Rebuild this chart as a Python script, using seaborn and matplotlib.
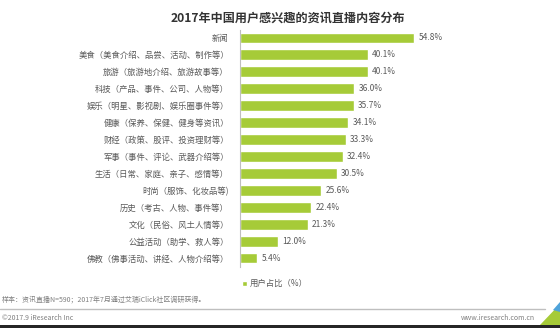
import matplotlib
matplotlib.use("Agg")
import matplotlib.pyplot as plt
import seaborn as sns
import pandas as pd
from matplotlib.patches import Polygon, Rectangle
from matplotlib.lines import Line2D

categories = [
    "新闻",
    "美食（美食介绍、品尝、活动、制作等）",
    "旅游（旅游地介绍、旅游故事等）",
    "科技（产品、事件、公司、人物等）",
    "娱乐（明星、影视剧、娱乐圈事件等）",
    "健康（保养、保健、健身等资讯）",
    "财经（政策、股评、投资理财等）",
    "军事（事件、评论、武器介绍等）",
    "生活（日常、家庭、亲子、感情等）",
    "时尚（服饰、化妆品等)",
    "历史（考古、人物、事件等）",
    "文化（民俗、风土人情等）",
    "公益活动（助学、救人等）",
    "佛教（佛事活动、讲经、人物介绍等）",
]
values = [54.8, 40.1, 40.1, 36.0, 35.7, 34.1, 33.3, 32.4, 30.5, 25.6, 22.4, 21.3, 12.0, 5.4]
series_name = "用户占比（%）"
title = "2017年中国用户感兴趣的资讯直播内容分布"
note = "样本：资讯直播N=590；2017年7月通过艾瑞iClick社区调研获得。"
footer_left = "©2017.9 iResearch Inc"
footer_right = "www.iresearch.com.cn"

sns.set_theme(style="white")
plt.rcParams["font.family"] = ["Noto Sans CJK SC", "DejaVu Sans"]

GREEN = "#A6CB38"
GRAY = "#595959"

df = pd.DataFrame({"cat": categories, "val": values})

fig = plt.figure(figsize=(5.6, 3.28), dpi=100)
ax = fig.add_axes([240 / 560, 1 - 266.5 / 328, 300 / 560, 237 / 328])

sns.barplot(data=df, y="cat", x="val", color=GREEN, width=0.64, ax=ax,
            saturation=1, label=series_name, orient="h")

ax.set_xlim(0, 300 / 3.18)
ax.set_ylim(13.5, -0.5)
ax.set_xlabel("")
ax.set_ylabel("")
ax.set_xticks([])
for s in ["top", "right", "bottom"]:
    ax.spines[s].set_visible(False)
ax.spines["left"].set_color("#BFBFBF")
ax.spines["left"].set_linewidth(0.8)
ax.tick_params(axis="y", length=0, pad=8, labelsize=6, labelcolor=GRAY)

for c in ax.containers:
    ax.bar_label(c, labels=[f"{v:.1f}%" for v in values], padding=3,
                 fontsize=6, color=GRAY)

leg = ax.legend(loc="upper left", bbox_to_anchor=(238 / 560, 1 - 275 / 328),
                bbox_transform=fig.transFigure, frameon=False, fontsize=6,
                handlelength=0.6, handleheight=0.6, handletextpad=0.3,
                borderpad=0, labelcolor=GRAY)

fig.text(288 / 560, 1 - 18 / 328, title, ha="center", va="center",
         fontsize=8.7, fontweight="bold", color="#333333")
fig.text(2 / 560, 1 - 299 / 328, note, ha="left", va="center",
         fontsize=5, color="#7F7F7F")
fig.add_artist(Line2D([0, 545 / 560], [1 - 309 / 328] * 2,
                      transform=fig.transFigure, color="#BFBFBF", lw=1))
fig.text(2 / 560, 1 - 318 / 328, footer_left, ha="left", va="center",
         fontsize=5, color="#7F7F7F")
fig.text(535 / 560, 1 - 318 / 328, footer_right, ha="right", va="center",
         fontsize=5, color="#7F7F7F")
fig.add_artist(Rectangle((0, 0), 1, 3.5 / 328, transform=fig.transFigure,
                         color="#262626", lw=0))
fig.add_artist(Polygon([[540 / 560, 1 - 325 / 328], [560 / 560, 1 - 325 / 328],
                        [560 / 560, 1 - 304 / 328]], closed=True,
                       transform=fig.transFigure, color="#A6CB38", lw=0))
fig.add_artist(Polygon([[553 / 560, 1 - 310 / 328], [560 / 560, 1 - 302 / 328],
                        [560 / 560, 1 - 312 / 328]], closed=True,
                       transform=fig.transFigure, color="#4FA3DA", lw=0))

fig.savefig("out.png", dpi=100)
